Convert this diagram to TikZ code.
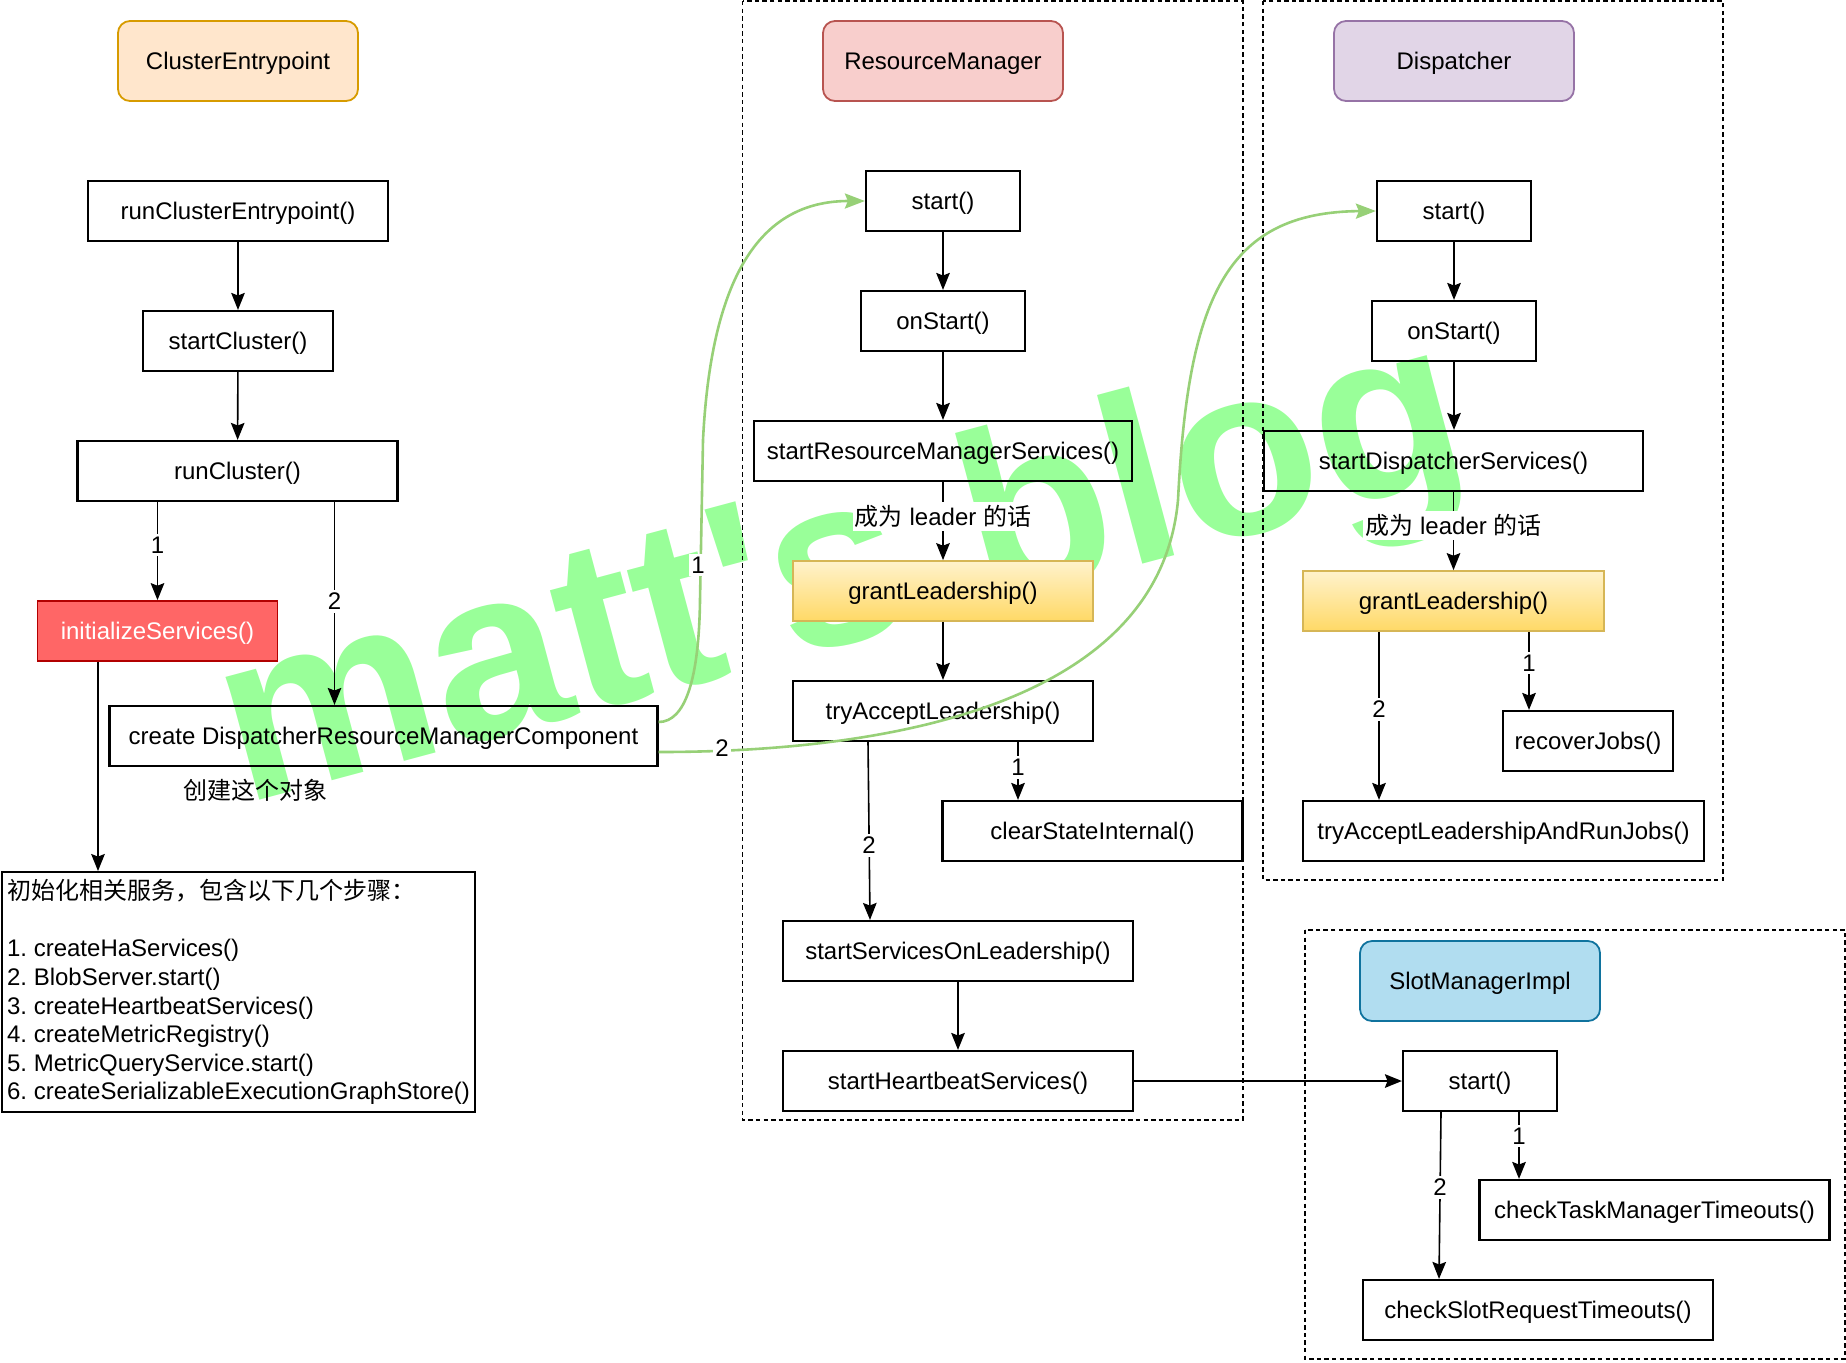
\documentclass[tikz,border=0pt]{standalone}
\usepackage{fontspec}
\setmainfont{Liberation Sans}
\newfontfamily\cjk{Noto Sans CJK SC}
\usetikzlibrary{arrows.meta,calc}
\definecolor{wmgreen}{HTML}{99FF99}
\definecolor{edgegreen}{HTML}{97D077}
\definecolor{ceFill}{HTML}{FFE6CC}
\definecolor{ceDraw}{HTML}{D79B00}
\definecolor{rmFill}{HTML}{F8CECC}
\definecolor{rmDraw}{HTML}{B85450}
\definecolor{dFill}{HTML}{E1D5E7}
\definecolor{dDraw}{HTML}{9673A6}
\definecolor{smFill}{HTML}{B1DDF0}
\definecolor{smDraw}{HTML}{10739E}
\definecolor{initFill}{HTML}{FF6666}
\definecolor{initDraw}{HTML}{B20000}
\definecolor{gTop}{HTML}{FFF2CC}
\definecolor{gBot}{HTML}{FFD966}
\definecolor{gDraw}{HTML}{D6B656}
\tikzset{
  basefont/.style={font=\fontsize{12}{14.3}\selectfont\frenchspacing, inner sep=0pt},
  plainbox/.style={basefont, draw, line width=1.1pt},
  box/.style={plainbox, minimum height=30pt, text height=9.4pt, text depth=0.6pt},
  title/.style={basefont, draw, rounded corners=6pt, line width=0.9pt, minimum width=120pt, minimum height=40pt, text height=9.4pt, text depth=0.6pt},
  grantbox/.style={box, line width=0.9pt, draw=gDraw, top color=gTop, bottom color=gBot},
  lbl/.style={basefont, fill=white, inner xsep=1pt, inner ysep=1.5pt},
  arr/.style={line width=0.8pt, -{Stealth[length=8.5pt,width=6.8pt,inset=1.3pt]}},
  grn/.style={draw=edgegreen, line width=1.3pt, -{Stealth[length=10pt,width=7.5pt,inset=1.5pt]}},
  frame/.style={line width=0.8pt, dash pattern=on 2.2pt off 1.6pt},
  wm/.style={font=\fontsize{120.5}{123}\selectfont\bfseries, text=wmgreen, rotate=15, anchor=base west, inner sep=0pt},
}
\begin{document}
\begin{tikzpicture}[x=0.5pt,y=-0.5pt]
\useasboundingbox (0,0) rectangle (1846,1362);

% watermark
\node[wm] (wm) at (243.6,805) {matt\textquotesingle s blog};

% frames
\draw[frame] (742.5,1) rectangle (1243,1120);
\draw[frame] (1263,1) rectangle (1723,880);
\draw[frame] (1305,930) rectangle (1845,1359);

% left column
\node[title, fill=ceFill, draw=ceDraw] (ce) at (238,61) {ClusterEntrypoint};
\node[box, minimum width=150pt] (rce) at (238,211) {runClusterEntrypoint()};
\node[box, minimum width=95pt] (sc) at (238,341) {startCluster()};
\node[box, minimum width=160pt] (rc) at (237.5,471) {runCluster()};
\node[box, minimum width=120pt, fill=initFill, draw=initDraw, line width=0.9pt, text=white] (init) at (157.5,631) {initializeServices()};
\node[box, minimum width=274pt] (create) at (383.5,736) {create DispatcherResourceManagerComponent};
\node[basefont] (cap) at (255,790) {\cjk 创建这个对象};
\node[plainbox, anchor=north west, minimum width=236.5pt, minimum height=120pt, align=left] (big) at (1,871)
  {{\cjk 初始化相关服务，包含以下几个步骤：}\\[14.3pt]
   1. createHaServices()\\
   2. BlobServer.start()\\
   3. createHeartbeatServices()\\
   4. createMetricRegistry()\\
   5. MetricQueryService.start()\\
   6. createSerializableExecutionGraphStore()};

% ResourceManager column
\node[title, fill=rmFill, draw=rmDraw] (rm) at (943,61) {ResourceManager};
\node[box, minimum width=77pt] (rmstart) at (943,201) {start()};
\node[box, minimum width=82pt] (rmon) at (943,321) {onStart()};
\node[box, minimum width=189pt] (rmsvc) at (943,451) {startResourceManagerServices()};
\node[grantbox, minimum width=150pt] (rmgrant) at (943,591) {grantLeadership()};
\node[box, minimum width=150pt] (rmtry) at (943,711) {tryAcceptLeadership()};
\node[box, minimum width=150pt] (rmclear) at (1092.5,831) {clearStateInternal()};
\node[box, minimum width=175pt] (rmsol) at (958,951) {startServicesOnLeadership()};
\node[box, minimum width=175pt] (rmhb) at (958,1081) {startHeartbeatServices()};

% Dispatcher column
\node[title, fill=dFill, draw=dDraw] (disp) at (1454,61) {Dispatcher};
\node[box, minimum width=77pt] (dstart) at (1454,211) {start()};
\node[box, minimum width=82pt] (don) at (1454,331) {onStart()};
\node[box, minimum width=189.5pt] (dsvc) at (1453.5,461) {startDispatcherServices()};
\node[grantbox, minimum width=150.5pt] (dgrant) at (1453.5,601) {grantLeadership()};
\node[box, minimum width=85pt] (drec) at (1588,741) {recoverJobs()};
\node[box, minimum width=200.5pt] (dtry) at (1503.5,831) {tryAcceptLeadershipAndRunJobs()};

% SlotManager
\node[title, fill=smFill, draw=smDraw] (sm) at (1480,981) {SlotManagerImpl};
\node[box, minimum width=77pt] (smstart) at (1480,1081) {start()};
\node[box, minimum width=175pt] (smtask) at (1654.5,1210) {checkTaskManagerTimeouts()};
\node[box, minimum width=175pt] (smslot) at (1538,1310) {checkSlotRequestTimeouts()};

% left connectors
\draw[arr] (rce) -- (sc);
\draw[arr] (sc) -- (rc);
\draw[arr] (init.north |- rc.south) -- node[lbl,pos=0.44]{1} (init.north);
\draw[arr] ([xshift=48.5pt]rc.south) -- node[lbl,pos=0.49]{2} ([xshift=48.5pt]rc.south |- create.north);
\draw[arr] ([xshift=-29.75pt]init.south) -- ([xshift=-29.75pt]init.south |- big.north);

% RM connectors
\draw[arr] (rmstart) -- (rmon);
\draw[arr] (rmon) -- (rmsvc);
\draw[arr] (rmsvc) -- node[lbl,pos=0.44]{{\cjk 成为} leader {\cjk 的话}} (rmgrant);
\draw[arr] (rmgrant) -- (rmtry);
\draw[arr] ([xshift=37.5pt]rmtry.south) -- node[lbl,pos=0.44]{1} ([xshift=37.5pt]rmtry.south |- rmclear.north);
\draw[arr] ([xshift=-37.5pt]rmtry.south) -- node[lbl,pos=0.58]{2} ([xshift=-44pt]rmsol.north);
\draw[arr] (rmsol) -- (rmhb);
\draw[arr] (rmhb) -- (smstart);

% Dispatcher connectors
\draw[arr] (dstart) -- (don);
\draw[arr] (don.south) -- (don.south |- dsvc.north);
\draw[arr] (dsvc) -- node[lbl,pos=0.43]{{\cjk 成为} leader {\cjk 的话}} (dgrant);
\draw[arr] ([xshift=-37.25pt]dgrant.south) -- node[lbl,pos=0.46]{2} ([xshift=-37.25pt]dgrant.south |- dtry.north);
\draw[arr] ([xshift=37.75pt]dgrant.south) -- node[lbl,pos=0.4]{1} ([xshift=37.75pt]dgrant.south |- drec.north);

% SlotManager connectors
\draw[arr] ([xshift=19.5pt]smstart.south) -- node[lbl,pos=0.36]{1} ([xshift=19.5pt]smstart.south |- smtask.north);
\draw[arr] ([xshift=-19.5pt]smstart.south) -- node[lbl,pos=0.45]{2} ([xshift=-49.5pt]smslot.north);

% green curved connectors
\draw[grn] ([yshift=7pt]create.east) .. controls (685,722) and (699,680) .. (700,600) -- (703,440) .. controls (712,260) and (770,201) .. (rmstart.west);
\node[lbl] (g1) at (698,565) {1};
\draw[grn] ([yshift=-8pt]create.east) .. controls (900,752) and (1160,700) .. (1178,500) .. controls (1188,300) and (1225,212) .. (dstart.west);
\node[lbl] (g2) at (722,748) {2};
\end{tikzpicture}
\end{document}
